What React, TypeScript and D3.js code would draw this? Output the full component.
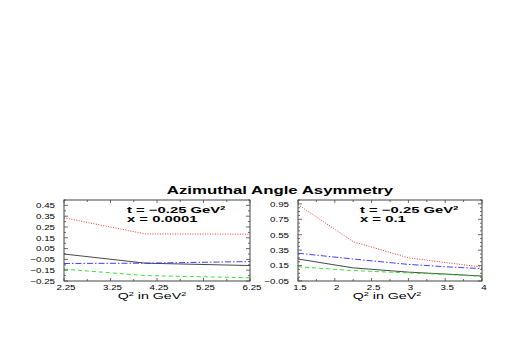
import * as d3 from "d3";

// left panel: x = 0.0001
const q2Left = [2.25, 4.0, 6.25];
const redLeft = [0.335, 0.186, 0.184];
const blackLeft = [0.0, -0.085, -0.107];
const blueLeft = [-0.088, -0.085, -0.07];
const greenLeft = [-0.14, -0.2, -0.22];

// right panel: x = 0.1
const q2Right = [1.5, 2.25, 3.0, 3.5, 4.0];
const redRight = [0.94, 0.46, 0.25, 0.19, 0.13];
const blueRight = [0.31, 0.235, 0.165, 0.135, 0.11];
const blackRight = [0.235, 0.12, 0.065, 0.04, 0.015];
const greenRight = [0.135, 0.085, 0.055, 0.035, 0.01];

const leftXTicks = ["2.25", "3.25", "4.25", "5.25", "6.25"];
const leftYTicks = ["-0.25", "-0.15", "-0.05", "0.05", "0.15", "0.25", "0.35", "0.45"];
const rightXTicks = ["1.5", "2", "2.5", "3", "3.5", "4"];
const rightYTicks = ["-0.05", "0.15", "0.35", "0.55", "0.75", "0.95"];

const FONT = "'Liberation Sans', Arial, Helvetica, sans-serif";
const SX = 1.5;

const styles = [
  { key: "red", color: "#ff2020", dash: "1 1.5" },
  { key: "black", color: "#333333", dash: "none" },
  { key: "blue", color: "#2a2aff", dash: "6 2 1.5 2" },
  { key: "green", color: "#22dd22", dash: "4 3" },
];

const fmt = (s: string) => s.replace("-", "\u2212");

function Stretch({ x, y, size, anchor = "start", weight = "normal", sx = SX, children }: any) {
  return (
    <text
      transform={`translate(${x},${y}) scale(${sx},1)`}
      fontFamily={FONT}
      fontSize={size}
      fontWeight={weight}
      textAnchor={anchor}
      fill="#000"
    >
      {children}
    </text>
  );
}

function Panel({ left, right, top, bottom, xDomain, yDomain, xs, series, xTickLabels, yTickLabels, xMinorStep, yMinorStep, tLabel, xLabel }: any) {
  const x = d3.scaleLinear().domain(xDomain).range([left, right]);
  const y = d3.scaleLinear().domain(yDomain).range([bottom, top]);
  const line = d3.line<number>().x((_, i) => x(xs[i])).y((d) => y(d));

  const xMinor = d3.range(xDomain[0], xDomain[1] + 1e-9, xMinorStep);
  const yMinor = d3.range(yDomain[0], yDomain[1] + 1e-9, yMinorStep);
  const yMajor = yTickLabels.map(Number);
  const isMajorY = (v: number) => yMajor.some((m: number) => Math.abs(m - v) < 1e-6);
  const xMajor = xTickLabels.map(Number);
  const isMajorX = (v: number) => xMajor.some((m: number) => Math.abs(m - v) < 1e-6);

  return (
    <g>
      <defs>
        <clipPath id={`clip${left}`}>
          <rect x={left} y={top} width={right - left} height={bottom - top} />
        </clipPath>
      </defs>
      <g clipPath={`url(#clip${left})`}>
        {series.map((s: any, i: number) => (
          <path
            key={i}
            d={line(s.values) || ""}
            fill="none"
            stroke={styles[i].color}
            strokeWidth={0.9}
            strokeDasharray={styles[i].dash}
          />
        ))}
      </g>
      <rect x={left} y={top} width={right - left} height={bottom - top} fill="none" stroke="#444" strokeWidth={1} />
      {xMinor.map((v: number, i: number) => {
        const len = isMajorX(v) ? 3 : 2;
        return (
          <g key={`xt${i}`} stroke="#444" strokeWidth={0.8}>
            <line x1={x(v)} x2={x(v)} y1={bottom} y2={bottom - len} />
            <line x1={x(v)} x2={x(v)} y1={top} y2={top + len} />
          </g>
        );
      })}
      {yMinor.map((v: number, i: number) => {
        const len = isMajorY(v) ? 4 : 2;
        return (
          <g key={`yt${i}`} stroke="#444" strokeWidth={0.8}>
            <line x1={left} x2={left + len} y1={y(v)} y2={y(v)} />
            <line x1={right} x2={right - len} y1={y(v)} y2={y(v)} />
          </g>
        );
      })}
      {yTickLabels.map((t: string) => (
        <Stretch key={`yl${t}`} x={left - 9} y={y(Number(t)) + 2.8} size={7.5} anchor="end" sx={1.3}>
          {fmt(t)}
        </Stretch>
      ))}
      {xTickLabels.map((t: string) => (
        <Stretch key={`xl${t}`} x={x(Number(t)) + 2} y={bottom + 9} size={7.5} anchor="middle" sx={1.3}>
          {t}
        </Stretch>
      ))}
      <Stretch x={xLabel.x} y={bottom + 18} size={9.5} anchor="middle">
        Q<tspan dy={-3.5} fontSize={6}>2</tspan>
        <tspan dy={3.5}> in GeV</tspan>
        <tspan dy={-3.5} fontSize={6}>2</tspan>
      </Stretch>
      <Stretch x={tLabel.x} y={top + 12.5} size={9} weight="bold" sx={1.65}>
        t = {"\u2212"}0.25 GeV<tspan dy={-3} fontSize={5.5}>2</tspan>
      </Stretch>
      <Stretch x={tLabel.x} y={top + 21.5} size={9} weight="bold" sx={1.65}>
        x = {tLabel.xv}
      </Stretch>
    </g>
  );
}

export default function App() {
  return (
    <svg
      width={518}
      height={354}
      style={{ position: "absolute", left: 0, top: 0, background: "#fff" }}
    >
      <rect width={518} height={354} fill="#fff" />
      <Stretch x={280} y={194} size={10.5} weight="bold" anchor="middle" sx={1.6}>
        Azimuthal Angle Asymmetry
      </Stretch>
      <Panel
        left={64}
        right={250}
        top={200}
        bottom={281}
        xDomain={[2.25, 6.25]}
        yDomain={[-0.25, 0.5]}
        xs={q2Left}
        series={[
          { values: redLeft },
          { values: blackLeft },
          { values: blueLeft },
          { values: greenLeft },
        ]}
        xTickLabels={leftXTicks}
        yTickLabels={leftYTicks}
        xMinorStep={0.5}
        yMinorStep={0.05}
        tLabel={{ x: 127, xv: "0.0001" }}
        xLabel={{ x: 152 }}
      />
      <Panel
        left={298}
        right={482}
        top={200}
        bottom={281}
        xDomain={[1.5, 4]}
        yDomain={[-0.05, 1.0]}
        xs={q2Right}
        series={[
          { values: redRight },
          { values: blackRight },
          { values: blueRight },
          { values: greenRight },
        ]}
        xTickLabels={rightXTicks}
        yTickLabels={rightYTicks}
        xMinorStep={0.25}
        yMinorStep={0.05}
        tLabel={{ x: 360, xv: "0.1" }}
        xLabel={{ x: 387 }}
      />
    </svg>
  );
}
